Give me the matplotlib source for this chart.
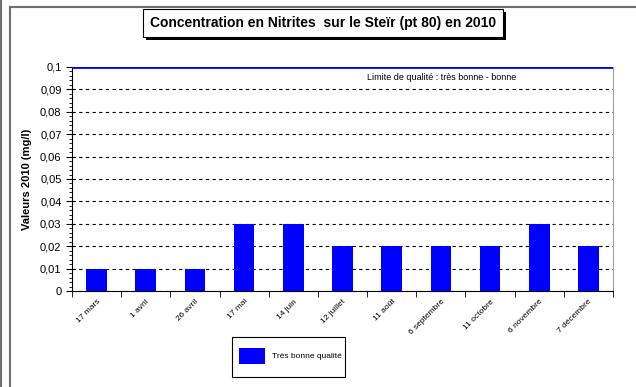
import matplotlib.pyplot as plt
from matplotlib.lines import Line2D
from matplotlib.patches import Rectangle
from matplotlib.ticker import MultipleLocator, FuncFormatter

plt.rcParams['font.family'] = ['Liberation Sans', 'DejaVu Sans']

# sampling dates and nitrite concentrations (mg/l)
dates = ["17 mars", "1 avril", "26 avril", "17 mai", "14 juin", "12 juillet",
         "11 août", "6 septembre", "11 octobre", "6 novembre", "7 décembre"]
nitrites = [0.01, 0.01, 0.01, 0.03, 0.03, 0.02, 0.02, 0.02, 0.02, 0.03, 0.02]
limite = 0.1
bleu = "#0000ff"

fig = plt.figure(figsize=(6.36, 3.87), dpi=100)
ax = fig.add_axes([0.1132, 0.248, 0.8506, 0.579])

x = range(len(dates))
ax.bar(x, nitrites, width=0.42, color=bleu, zorder=3)
ax.axhline(limite, color=bleu, lw=2, zorder=4)
ax.text(0.545, 0.0955, "Limite de qualité : très bonne - bonne", fontsize=6.5,
        transform=ax.get_yaxis_transform(), va="center")

ax.set_xlim(-0.5, len(dates) - 0.5)
ax.set_ylim(0, 0.1)
ax.yaxis.set_major_locator(MultipleLocator(0.01))
ax.yaxis.set_minor_locator(MultipleLocator(0.002))
ax.yaxis.set_major_formatter(FuncFormatter(lambda v, p: "0" if v == 0 else f"{v:.2f}".rstrip("0").replace(".", ",")))
ax.grid(axis="y", which="major", color="black", linestyle=(0, (3, 3)), lw=0.8, zorder=1)

# ticks between categories, labels under the bars
ax.set_xticks([i - 0.5 for i in range(len(dates) + 1)], minor=True)
ax.set_xticks(list(x))
ax.set_xticklabels(dates, rotation=45, ha="right", rotation_mode="anchor", fontsize=6)
ax.tick_params(axis="x", which="major", length=0, pad=5)
ax.tick_params(axis="x", which="minor", length=4, direction="out")
ax.tick_params(axis="y", which="major", length=4, labelsize=8)
ax.tick_params(axis="y", which="minor", length=2)

ax.spines["top"].set_visible(False)
ax.spines["right"].set_color("#a0a0a0")
ax.spines["left"].set_color("black")
ax.spines["bottom"].set_color("black")

ax.set_ylabel("Valeurs 2010 (mg/l)", fontsize=8, fontweight="bold", labelpad=6)

# legend box drawn by hand
W, H = 636, 387
fig.add_artist(Rectangle((232 / W, 1 - 377 / H), 113 / W, 40 / H, transform=fig.transFigure,
                         facecolor="white", edgecolor="black", lw=0.8))
fig.add_artist(Rectangle((239 / W, 1 - 364 / H), 26 / W, 16 / H, transform=fig.transFigure,
                         facecolor=bleu, edgecolor="none"))
fig.text(272 / W, 1 - 356 / H, "Très bonne qualité", fontsize=6, va="center")

# title in a box with a shadow
fig.add_artist(Rectangle((146 / W, 1 - 40 / H), 360 / W, 28 / H,
                         transform=fig.transFigure, facecolor="black", edgecolor="none"))
fig.add_artist(Rectangle((143 / W, 1 - 37 / H), 360 / W, 28 / H,
                         transform=fig.transFigure, facecolor="white", edgecolor="black", lw=0.8))
fig.text(323 / W, 1 - 23 / H, "Concentration en Nitrites  sur le Steïr (pt 80) en 2010",
         ha="center", va="center", fontsize=10, fontweight="bold")

# outer frame lines
grey = "#707070"
fig.add_artist(Line2D([0.5 / W, 0.5 / W], [0, 1], transform=fig.transFigure, color=grey, lw=1.5))
fig.add_artist(Line2D([10 / W, 10 / W], [0, 1 - 7 / H], transform=fig.transFigure, color=grey, lw=1.5))
fig.add_artist(Line2D([10 / W, 1], [1 - 7 / H, 1 - 7 / H], transform=fig.transFigure, color=grey, lw=1.5))

fig.savefig("out.png", dpi=100)
